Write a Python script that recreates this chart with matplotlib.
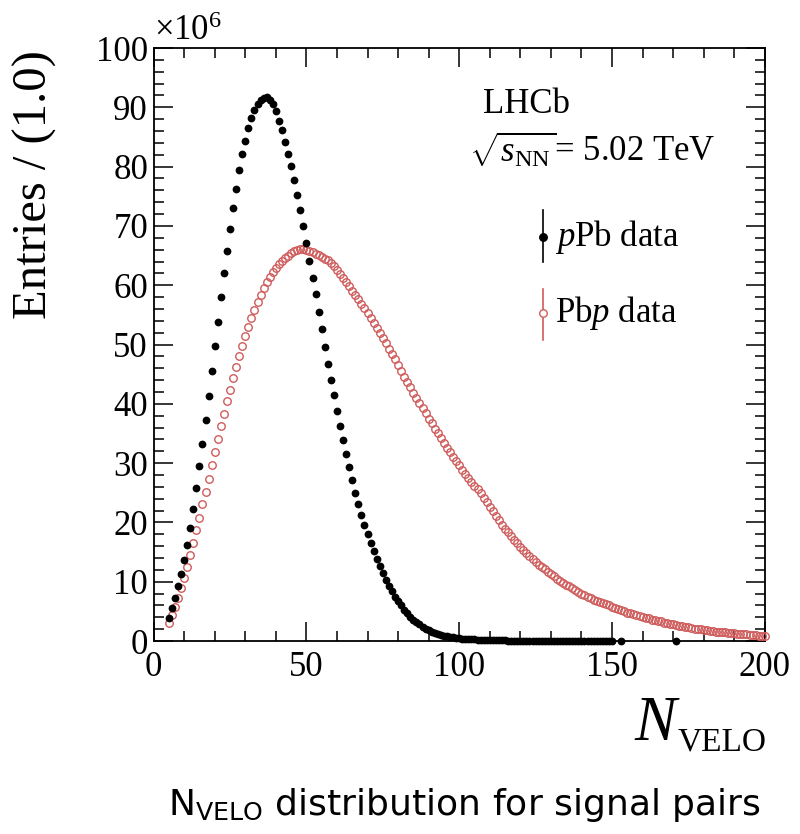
import numpy as np
import matplotlib
matplotlib.use("Agg")
import matplotlib.pyplot as plt
from matplotlib.ticker import MultipleLocator

plt.rcParams["font.family"] = ["Liberation Serif", "DejaVu Serif"]
plt.rcParams["mathtext.fontset"] = "custom"
plt.rcParams["mathtext.rm"] = "Liberation Serif"
plt.rcParams["mathtext.it"] = "Liberation Serif:italic"
plt.rcParams["mathtext.sf"] = "DejaVu Sans"

# N_VELO bins (width 1) and entries in units of 1e6
pPb_n = list(range(5, 151)) + [153, 171]
pPb_vals = [
    3.9, 5.5, 7.3, 9.2, 11.3, 13.6, 16.2, 19.1, 22.3, 25.8,
    29.5, 33.3, 37.3, 41.4, 45.6, 49.7, 53.8, 58.0, 62.0, 65.8,
    69.5, 73.1, 76.3, 79.4, 82.1, 84.4, 86.5, 88.2, 89.5, 90.5,
    91.2, 91.6, 91.7, 91.3, 90.6, 89.3, 87.7, 86.1, 84.1, 82.2,
    80.1, 77.7, 75.2, 72.7, 70.0, 67.1, 64.1, 61.3, 58.5, 55.5,
    52.6, 49.6, 46.8, 44.1, 41.5, 38.8, 36.3, 33.9, 31.6, 29.3,
    27.1, 25.0, 23.1, 21.3, 19.6, 18.0, 16.5, 15.1, 13.8, 12.6,
    11.4, 10.3, 9.3, 8.4, 7.5, 6.7, 6.0, 5.3, 4.7, 4.1,
    3.6, 3.2, 2.8, 2.4, 2.1, 1.8, 1.6, 1.4, 1.2, 1.05,
    0.9, 0.8, 0.7, 0.6, 0.5, 0.45, 0.40, 0.36, 0.32, 0.29,
    0.26, 0.23, 0.21, 0.19, 0.17, 0.15, 0.14, 0.12, 0.11, 0.10,
    0.09, 0.08, 0.07, 0.065, 0.06, 0.055, 0.05, 0.045, 0.04, 0.037,
    0.034, 0.031, 0.028, 0.026, 0.024, 0.022, 0.02, 0.018, 0.017, 0.015,
    0.014, 0.013, 0.012, 0.011, 0.01, 0.009, 0.008, 0.008, 0.007, 0.006,
    0.006, 0.005, 0.005, 0.004, 0.004, 0.003,
    0.003, 0.002,
]

Pbp_n = list(range(5, 201))
Pbp_vals = [
    3.0, 4.4, 5.8, 7.2, 8.9, 10.7, 12.5, 14.5, 16.6, 18.7,
    20.8, 23.1, 25.2, 27.4, 29.7, 31.9, 34.1, 36.2, 38.3, 40.4,
    42.4, 44.4, 46.2, 48.0, 49.8, 51.4, 53.0, 54.5, 55.9, 57.2,
    58.4, 59.5, 60.5, 61.4, 62.2, 62.9, 63.5, 64.1, 64.6, 65.0,
    65.4, 65.7, 65.9, 66.1, 66.1, 66.0, 65.8, 65.6, 65.3, 65.1,
    64.8, 64.5, 64.2, 63.8, 63.3, 62.6, 61.9, 61.2, 60.5, 59.8,
    59.0, 58.3, 57.6, 56.9, 56.1, 55.3, 54.5, 53.7, 52.8, 52.0,
    51.1, 50.2, 49.3, 48.4, 47.5, 46.6, 45.6, 44.6, 43.7, 42.8,
    41.9, 41.0, 40.2, 39.3, 38.4, 37.5, 36.7, 35.8, 35.0, 34.2,
    33.4, 32.6, 31.8, 31.0, 30.3, 29.6, 28.9, 28.2, 27.5, 26.9,
    26.2, 25.6, 24.9, 24.1, 23.4, 22.6, 21.9, 21.1, 20.4, 19.6,
    18.9, 18.3, 17.7, 17.1, 16.5, 15.9, 15.4, 14.9, 14.4, 13.9,
    13.4, 12.9, 12.5, 12.1, 11.7, 11.3, 10.9, 10.5, 10.2, 9.8,
    9.5, 9.2, 8.9, 8.6, 8.3, 8.0, 7.8, 7.5, 7.3, 7.0,
    6.8, 6.6, 6.4, 6.2, 6.0, 5.8, 5.6, 5.4, 5.2, 5.0,
    4.8, 4.7, 4.5, 4.4, 4.2, 4.0, 3.9, 3.8, 3.6, 3.5,
    3.4, 3.3, 3.1, 3.0, 2.9, 2.8, 2.7, 2.6, 2.5, 2.4,
    2.3, 2.2, 2.1, 2.05, 2.0, 1.9, 1.8, 1.75, 1.7, 1.6,
    1.55, 1.5, 1.45, 1.4, 1.35, 1.3, 1.25, 1.2, 1.15, 1.1,
    1.05, 1.0, 0.95, 0.9, 0.85, 0.8,
]

red = "#cf5b5b"

fig = plt.figure(figsize=(8.0, 8.34), dpi=100)
ax = fig.add_axes([0.192, 0.2314, 0.764, 0.711])

ax.plot(Pbp_n, Pbp_vals, "o", ms=5.4, mfc="none", mec=red, mew=1.0,
        clip_on=False, zorder=3)
ax.plot(pPb_n, pPb_vals, "o", ms=5.6, color="black", mew=0,
        clip_on=False, zorder=4)

ax.set_xlim(0, 200)
ax.set_ylim(0, 100)
ax.xaxis.set_major_locator(MultipleLocator(50))
ax.xaxis.set_minor_locator(MultipleLocator(10))
ax.yaxis.set_major_locator(MultipleLocator(10))
ax.yaxis.set_minor_locator(MultipleLocator(2))
ax.tick_params(which="both", direction="in", top=True, right=True, width=1.1)
ax.tick_params(which="major", length=14)
ax.tick_params(which="minor", length=7.5)
ax.tick_params(axis="both", labelsize=25)
ax.tick_params(axis="x", pad=7)
ax.tick_params(axis="y", pad=4)
for s in ax.spines.values():
    s.set_linewidth(1.3)

ax.text(0.0, 1.0, r"$\times10^{6}$", transform=ax.transAxes,
        ha="left", va="bottom", fontsize=25)
fig.text(0.044, 0.94, "Entries / (1.0)", rotation=90, ha="center",
         va="top", fontsize=35)

# axis title: italic N followed by a large subscript
fig.text(0.845, 0.1127, "N", style="italic", ha="right", va="baseline",
         fontsize=45)
fig.text(0.847, 0.1007, "VELO", ha="left", va="baseline", fontsize=24)

ax.text(0.539, 0.904, "LHCb", transform=ax.transAxes, ha="left",
        va="center", fontsize=25)
ax.text(0.516, 0.828, r"$\sqrt{s_{\mathrm{NN}}}$= 5.02 TeV",
        transform=ax.transAxes, ha="left", va="center", fontsize=25)

# legend entries
ax.plot([0.637, 0.637], [0.639, 0.727], color="black", lw=1.2,
        transform=ax.transAxes)
ax.plot([0.637], [0.681], "o", color="black", ms=5.4,
        transform=ax.transAxes)
ax.text(0.656, 0.681, r"$p$Pb data", transform=ax.transAxes,
        ha="left", va="center", fontsize=25)
ax.plot([0.637, 0.637], [0.508, 0.594], color=red, lw=1.2,
        transform=ax.transAxes)
ax.plot([0.637], [0.553], "o", mfc="white", mec=red, mew=1.0, ms=5.4,
        transform=ax.transAxes)
ax.text(0.656, 0.553, r"Pb$p$ data", transform=ax.transAxes,
        ha="left", va="center", fontsize=25)

fig.text(0.58, 0.035, r"N$_{\mathsf{VELO}}$ distribution for signal pairs",
         ha="center", va="center", fontsize=26, family="DejaVu Sans")

fig.savefig("out.png", dpi=100)
